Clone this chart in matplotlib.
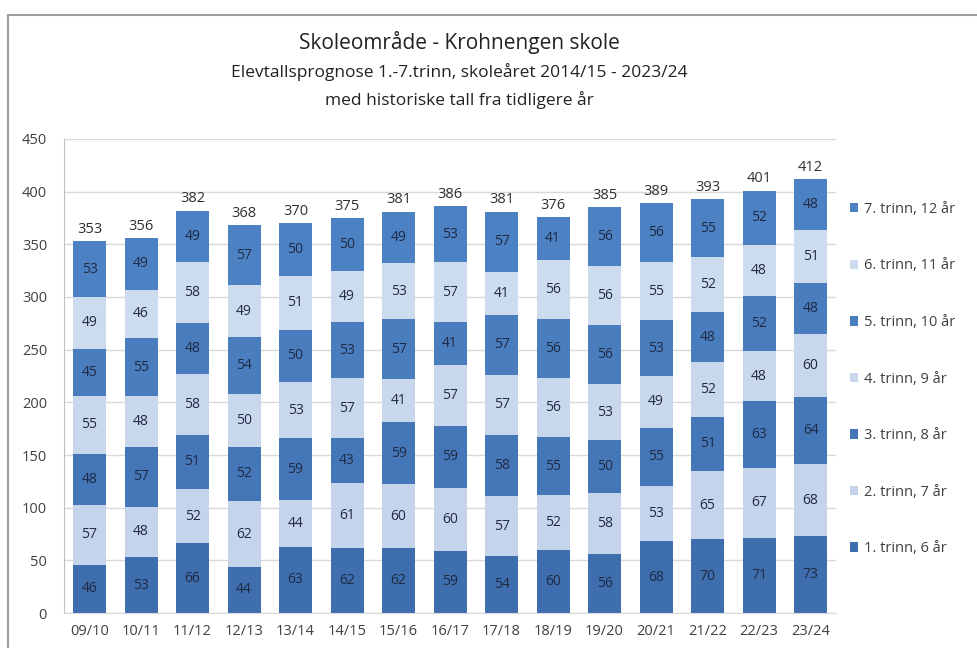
import matplotlib
matplotlib.use("Agg")
import matplotlib.pyplot as plt
import numpy as np
from matplotlib.patches import Rectangle

plt.rcParams["font.family"] = ["Open Sans", "DejaVu Sans"]

years = ["09/10", "10/11", "11/12", "12/13", "13/14", "14/15", "15/16", "16/17",
         "17/18", "18/19", "19/20", "20/21", "21/22", "22/23", "23/24"]

trinn1 = [46, 53, 66, 44, 63, 62, 62, 59, 54, 60, 56, 68, 70, 71, 73]
trinn2 = [57, 48, 52, 62, 44, 61, 60, 60, 57, 52, 58, 53, 65, 67, 68]
trinn3 = [48, 57, 51, 52, 59, 43, 59, 59, 58, 55, 50, 55, 51, 63, 64]
trinn4 = [55, 48, 58, 50, 53, 57, 41, 57, 57, 56, 53, 49, 52, 48, 60]
trinn5 = [45, 55, 48, 54, 50, 53, 57, 41, 57, 56, 56, 53, 48, 52, 48]
trinn6 = [49, 46, 58, 49, 51, 49, 53, 57, 41, 56, 56, 55, 52, 48, 51]
trinn7 = [53, 49, 49, 57, 50, 50, 49, 53, 57, 41, 56, 56, 55, 52, 48]

series_labels = ["1. trinn, 6 år", "2. trinn, 7 år", "3. trinn, 8 år", "4. trinn, 9 år",
                 "5. trinn, 10 år", "6. trinn, 11 år", "7. trinn, 12 år"]
series = [trinn1, trinn2, trinn3, trinn4, trinn5, trinn6, trinn7]
colors = ["#3e6eae", "#c5d4ea", "#4577b8", "#c9d7ed", "#4a7dbe", "#cddbef", "#4c81c3"]

fig = plt.figure(figsize=(9.78, 6.48), dpi=100)
ax = fig.add_axes([0.0652, 0.054, 0.790, 0.7315])

# outer chart frame
fig.patches.append(Rectangle((8 / 978, -0.05), 1.2, (648 - 15) / 648 + 0.05,
                             transform=fig.transFigure, fill=False,
                             edgecolor="#a0a0a0", linewidth=1.5))

x = np.arange(len(years))
bottom = np.zeros(len(years))
for vals, lab, col in zip(series, series_labels, colors):
    ax.bar(x, vals, width=0.64, bottom=bottom, color=col, label=lab, zorder=2)
    for xi, v, b0 in zip(x, vals, bottom):
        ax.text(xi, b0 + v / 2, str(v), ha="center", va="center",
                fontsize=10, color="#1f2a44", zorder=3)
    bottom = bottom + np.array(vals)

# totals above each column
for xi, tot in zip(x, bottom):
    ax.text(xi, tot + 4, str(int(tot)), ha="center", va="bottom",
            fontsize=10.5, color="#303030")

ax.set_xlim(-0.5, len(years) - 0.5)
ax.set_ylim(0, 450)
ax.set_yticks(range(0, 451, 50))
ax.set_xticks(x)
ax.set_xticklabels(years)
ax.tick_params(axis="both", length=0, labelsize=10.5, colors="#404040")
ax.tick_params(axis="y", pad=12)
ax.tick_params(axis="x", pad=8)
ax.grid(axis="y", color="#d9d9d9", linewidth=1, zorder=0)
for s in ["top", "right"]:
    ax.spines[s].set_visible(False)
ax.spines["left"].set_color("#bfbfbf")
ax.spines["bottom"].set_color("#d9d9d9")

handles, labels = ax.get_legend_handles_labels()
ax.legend(handles[::-1], labels[::-1], loc="upper left", bbox_to_anchor=(1.0, 0.895),
          frameon=False, fontsize=10.5, handlelength=0.6, handleheight=0.6,
          labelspacing=2.85, handletextpad=0.4, labelcolor="#404040")

fig.text(0.47, 0.935, "Skoleområde - Krohnengen skole", ha="center", va="center",
         fontsize=15, color="#222222")
fig.text(0.47, 0.889, "Elevtallsprognose 1.-7.trinn, skoleåret 2014/15 - 2023/24",
         ha="center", va="center", fontsize=12.5, color="#222222")
fig.text(0.47, 0.846, "med historiske tall fra tidligere år", ha="center", va="center",
         fontsize=12.5, color="#222222")

fig.savefig("out.png", dpi=100)
